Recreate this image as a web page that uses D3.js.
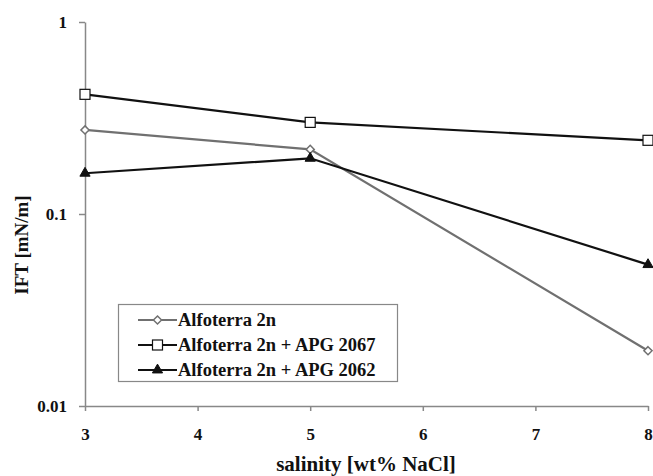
<!DOCTYPE html>
<html>
<head>
<meta charset="utf-8">
<script src="https://cdn.jsdelivr.net/npm/d3@7"></script>
<style>
  body { margin: 0; background: #fff; }
  text { font-family: "Liberation Serif", "Times New Roman", serif; font-weight: bold; }
</style>
</head>
<body>
<div class="view1"></div>
<script>
// salinity values (wt% NaCl)
const salinity = [3, 5, 8];
// IFT values per series (mN/m)
const alfoterra = [0.274, 0.217, 0.0194];
const apg2067 = [0.42, 0.30, 0.242];
const apg2062 = [0.163, 0.195, 0.0545];
const seriesNames = ["Alfoterra 2n", "Alfoterra 2n + APG 2067", "Alfoterra 2n + APG 2062"];
const xTicks = [3, 4, 5, 6, 7, 8];
const yTicks = [0.01, 0.1, 1];

const W = 653, H = 476;
const margin = {top: 22, right: 5, bottom: 70, left: 85};

let svg = d3.select(".view1").append("svg")
    .attr("width", W).attr("height", H);

let x = d3.scaleLinear().domain([3, 8]).range([margin.left, W - margin.right]);
let y = d3.scaleLog().domain([0.01, 1]).range([H - margin.bottom, margin.top]);

// y axis
let yAxis = svg.append("g")
    .attr("transform", "translate(" + margin.left + ",0)")
    .call(d3.axisLeft(y).tickValues(yTicks).tickFormat(d => d).tickSize(6).tickSizeOuter(0));
// x axis
let xAxis = svg.append("g")
    .attr("transform", "translate(0," + (H - margin.bottom) + ")")
    .call(d3.axisBottom(x).tickValues(xTicks).tickFormat(d3.format("d")).tickSize(5).tickSizeOuter(0));

[yAxis, xAxis].forEach(a => {
    a.select(".domain").attr("stroke", "#888").attr("stroke-width", 1.5);
    a.selectAll(".tick line").attr("stroke", "#888").attr("stroke-width", 1.5);
    a.selectAll("text").attr("fill", "#111").style("font-size", "17px");
});
yAxis.selectAll("text").attr("x", -18);
xAxis.selectAll("text").attr("y", 22);

// axis titles
svg.append("text")
    .attr("transform", "translate(28,245) rotate(-90)")
    .attr("text-anchor", "middle")
    .style("font-size", "19px")
    .attr("fill", "#111")
    .text("IFT [mN/m]");
svg.append("text")
    .attr("x", 366).attr("y", 471)
    .attr("text-anchor", "middle")
    .style("font-size", "21px")
    .attr("fill", "#111")
    .text("salinity [wt% NaCl]");

const series = [
    {name: seriesNames[0], values: alfoterra, color: "#707070", marker: "diamond"},
    {name: seriesNames[1], values: apg2067, color: "#111", marker: "square"},
    {name: seriesNames[2], values: apg2062, color: "#111", marker: "triangle"}
];

function drawMarker(g, type, color) {
    if (type === "diamond") {
        g.append("path").attr("d", d3.symbol(d3.symbolDiamond2, 42)())
            .attr("fill", "#fff").attr("stroke", color).attr("stroke-width", 1.5);
    } else if (type === "square") {
        g.append("rect").attr("x", -5).attr("y", -5).attr("width", 10).attr("height", 10)
            .attr("fill", "#fff").attr("stroke", color).attr("stroke-width", 1.2);
    } else {
        g.append("path").attr("d", d3.symbol(d3.symbolTriangle, 45)())
            .attr("fill", color).attr("stroke", color).attr("stroke-width", 1);
    }
}

let line = d3.line().x(d => x(d[0])).y(d => y(d[1]));

series.forEach(s => {
    let pts = salinity.map((v, i) => [v, s.values[i]]);
    svg.append("path")
        .datum(pts)
        .attr("d", line)
        .attr("fill", "none")
        .attr("stroke", s.color)
        .attr("stroke-width", 2.2);
    pts.forEach(p => {
        let g = svg.append("g").attr("transform", "translate(" + x(p[0]) + "," + y(p[1]) + ")");
        drawMarker(g, s.marker, s.color);
    });
});

// legend
let legend = svg.append("g");
legend.append("rect")
    .attr("x", 118.5).attr("y", 304.5).attr("width", 279).attr("height", 77)
    .attr("fill", "#fff").attr("stroke", "#888").attr("stroke-width", 1.2);
series.forEach((s, i) => {
    let ly = 320 + i * 25;
    legend.append("line")
        .attr("x1", 138).attr("x2", 177).attr("y1", ly).attr("y2", ly)
        .attr("stroke", s.color).attr("stroke-width", 2.2);
    let g = legend.append("g").attr("transform", "translate(157.5," + ly + ")");
    drawMarker(g, s.marker, s.color);
    legend.append("text")
        .attr("x", 178).attr("y", ly).attr("dy", "0.33em")
        .style("font-size", "18.5px").attr("fill", "#111")
        .text(s.name);
});
</script>
</body>
</html>
